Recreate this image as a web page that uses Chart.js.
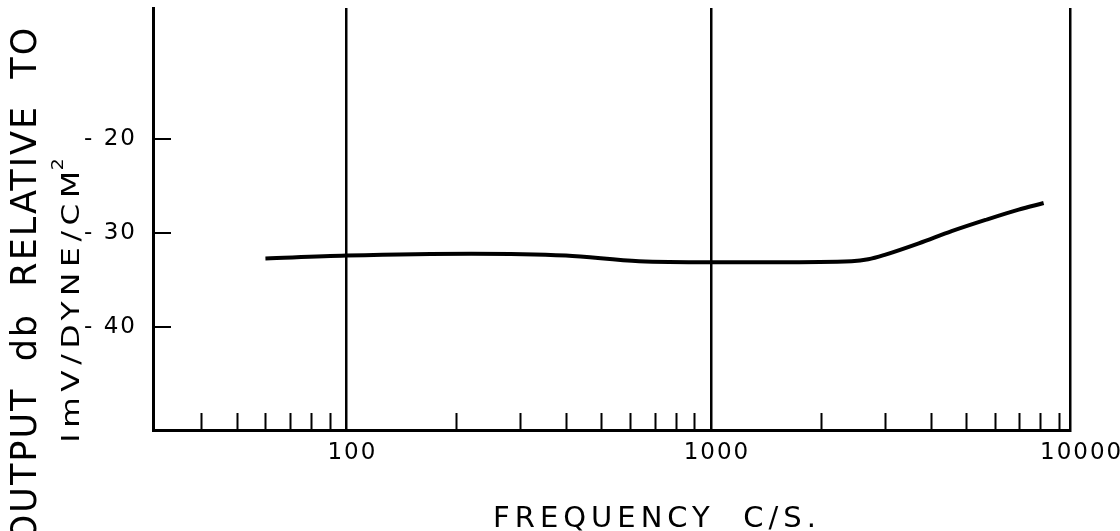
<!DOCTYPE html>
<html>
<head>
<meta charset="utf-8">
<script src="https://cdn.jsdelivr.net/npm/chart.js@4.4.1/dist/chart.umd.min.js"></script>
<style>
  html, body { margin: 0; padding: 0; background: #fff; }
  #wrap { width: 1120px; height: 531px; }
</style>
</head>
<body>
<div id="wrap"><canvas id="response" width="1120" height="531"></canvas></div>
<script>
// microphone output vs frequency
const frequency = [60, 100, 220, 400, 635, 1000, 1500, 2430, 2700, 3010, 3715, 4570, 5660, 6980, 8170];
const outputDb = [-32.7, -32.4, -32.2, -32.4, -33.0, -33.1, -33.1, -33.0, -32.8, -32.3, -31.1, -29.8, -28.6, -27.5, -26.8];

const freqLabels = [100, 1000, 10000];
const freqGrid = [100, 1000];
const freqMinor = [40, 50, 60, 70, 80, 90, 200, 300, 400, 500, 600, 700, 800, 900,
                   2000, 3000, 4000, 5000, 6000, 7000, 8000, 9000];
const dbTicks = [-20, -30, -40];

const ink = '#000';
const face = '"DejaVu Sans", sans-serif';

// ticks inside the frame plus all the lettering
const lettering = {
    id: 'lettering',
    afterDraw(chart) {
        const { ctx, chartArea: a, scales: { x, y } } = chart;
        ctx.save();
        ctx.strokeStyle = ink;
        ctx.fillStyle = ink;
        ctx.lineWidth = 2;
        ctx.beginPath();
        freqMinor.forEach((f) => {
            const px = Math.round(x.getPixelForValue(f)) + 0.5;
            ctx.moveTo(px, a.bottom);
            ctx.lineTo(px, a.bottom - 17);
        });
        dbTicks.forEach((v) => {
            const py = Math.round(y.getPixelForValue(v));
            ctx.moveTo(a.left, py);
            ctx.lineTo(a.left + 18, py);
        });
        ctx.stroke();

        ctx.font = '23px ' + face;
        ctx.textBaseline = 'middle';
        ctx.letterSpacing = '2px';
        ctx.textAlign = 'center';
        freqLabels.forEach((f) => ctx.fillText(String(f), x.getPixelForValue(f) + 6, a.bottom + 23));
        ctx.textAlign = 'right';
        dbTicks.forEach((v) => ctx.fillText('- ' + Math.abs(v), a.left - 16, y.getPixelForValue(v)));

        // x title
        ctx.font = '29px ' + face;
        ctx.letterSpacing = '5px';
        ctx.textAlign = 'center';
        ctx.textBaseline = 'alphabetic';
        ctx.fillText('FREQUENCY  C/S.', 657, 527);

        // y title, two lines reading upwards
        ctx.save();
        ctx.translate(36, 284);
        ctx.rotate(-Math.PI / 2);
        ctx.font = '35px ' + face;
        ctx.letterSpacing = '2px';
        ctx.fillText('OUTPUT  db  RELATIVE  TO', 0, 0);
        ctx.restore();

        ctx.save();
        ctx.translate(79, 304);
        ctx.rotate(-Math.PI / 2);
        ctx.scale(1.25, 1);
        ctx.font = '25px ' + face;
        ctx.letterSpacing = '4.5px';
        const unit = 'ImV/DYNE/CM';
        const w = ctx.measureText(unit).width;
        ctx.fillText(unit, 0, 0);
        ctx.font = '15px ' + face;
        ctx.letterSpacing = '0px';
        ctx.textAlign = 'left';
        ctx.fillText('2', w / 2 - 4, -16);
        ctx.restore();

        ctx.restore();
    }
};

new Chart(document.getElementById('response'), {
    type: 'line',
    data: {
        datasets: [{
            data: frequency.map((f, i) => ({ x: f, y: outputDb[i] })),
            borderColor: ink,
            borderWidth: 4,
            pointRadius: 0,
            cubicInterpolationMode: 'monotone',
            fill: false,
        }],
    },
    options: {
        responsive: false,
        animation: false,
        devicePixelRatio: 1,
        layout: { padding: { top: 8, right: 50, bottom: 101, left: 0 } },
        plugins: { legend: { display: false }, tooltip: { enabled: false } },
        scales: {
            x: {
                type: 'logarithmic',
                min: 29.5,
                max: 9650,
                afterBuildTicks: (s) => { s.ticks = [...freqGrid, s.max].map((value) => ({ value })); },
                afterFit: (s) => { s.height = 0; },
                ticks: { display: false },
                grid: { color: ink, lineWidth: 2.5, drawTicks: false },
                border: { color: ink, width: 3 },
            },
            y: {
                min: -51,
                max: -6,
                afterFit: (s) => { s.width = 153; },
                ticks: { display: false },
                grid: { display: false },
                border: { color: ink, width: 3 },
            },
        },
    },
    plugins: [lettering],
});
</script>
</body>
</html>
